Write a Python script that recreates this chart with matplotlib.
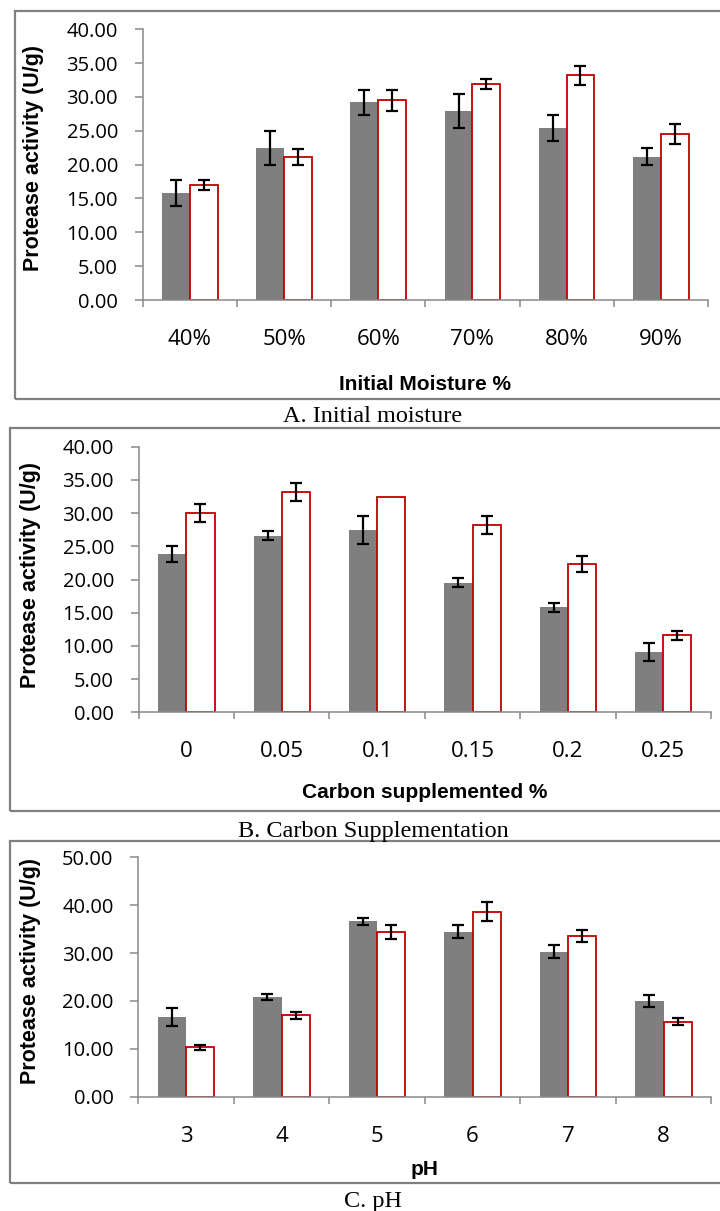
import numpy as np
import matplotlib
matplotlib.use("Agg")
import matplotlib.pyplot as plt
from matplotlib.patches import Rectangle
from matplotlib.ticker import FixedLocator, FormatStrFormatter

# ---------------- data ----------------
A_categories = ['40%', '50%', '60%', '70%', '80%', '90%']
A_gray = [15.8, 22.4, 29.2, 27.9, 25.4, 21.2]
A_gray_err = [1.9, 2.5, 1.9, 2.5, 1.9, 1.2]
A_red = [17.0, 21.1, 29.5, 31.9, 33.2, 24.5]
A_red_err = [0.7, 1.2, 1.5, 0.7, 1.4, 1.5]

B_categories = ['0', '0.05', '0.1', '0.15', '0.2', '0.25']
B_gray = [23.8, 26.6, 27.5, 19.5, 15.8, 9.1]
B_gray_err = [1.2, 0.7, 2.1, 0.7, 0.7, 1.4]
B_red = [30.0, 33.2, 32.4, 28.2, 22.4, 11.6]
B_red_err = [1.3, 1.4, None, 1.4, 1.2, 0.7]

C_categories = ['3', '4', '5', '6', '7', '8']
C_gray = [16.7, 20.8, 36.6, 34.5, 30.3, 20.0]
C_gray_err = [1.9, 0.7, 0.7, 1.4, 1.4, 1.3]
C_red = [10.3, 17.0, 34.4, 38.6, 33.6, 15.7]
C_red_err = [0.6, 0.7, 1.4, 2.0, 1.3, 0.7]

A_xlabel = 'Initial Moisture %'
B_xlabel = 'Carbon supplemented %'
C_xlabel = 'pH'
ylabel_text = 'Protease activity (U/g)'
A_caption = 'A. Initial moisture'
B_caption = 'B. Carbon Supplementation'
C_caption = 'C. pH'

# ---------------- layout (pixels) ----------------
W, H = 720, 1211
GRAY = '#7F7F7F'
RED = '#C00000'
AXIS_GRAY = '#898989'

def fx(x):
    return x / W

def fy(y):
    return 1 - y / H

fig = plt.figure(figsize=(W / 100, H / 100), dpi=100)

TICK_FONT = ['Open Sans', 'DejaVu Sans']
XLABEL_FONT = ['Liberation Sans', 'DejaVu Sans']
YLABEL_FONT = ['Liberation Sans', 'DejaVu Sans']
CAPTION_FONT = ['Liberation Serif', 'DejaVu Serif']

panels = [
    dict(cats=A_categories, gray=A_gray, gerr=A_gray_err, red=A_red, rerr=A_red_err,
         xlabel=A_xlabel, caption=A_caption, ymax=40, ystep=5,
         ax_left=142.7, ax_right=707.9, ax_top=29.3, ax_bottom=300.0,
         box=(15, 10.7, 399.0), ylab=(34, 158), xlab=(425, 390), cap=(373, 422)),
    dict(cats=B_categories, gray=B_gray, gerr=B_gray_err, red=B_red, rerr=B_red_err,
         xlabel=B_xlabel, caption=B_caption, ymax=40, ystep=5,
         ax_left=138.7, ax_right=711.0, ax_top=446.7, ax_bottom=712.3,
         box=(10, 428.0, 810.7), ylab=(31, 575), xlab=(425, 798), cap=(373, 836.7)),
    dict(cats=C_categories, gray=C_gray, gerr=C_gray_err, red=C_red, rerr=C_red_err,
         xlabel=C_xlabel, caption=C_caption, ymax=50, ystep=10,
         ax_left=138.3, ax_right=711.3, ax_top=857.3, ax_bottom=1096.7,
         box=(10, 840.5, 1183.0), ylab=(31, 971), xlab=(425, 1175), cap=(373, 1207)),
]

bw = 0.295
for p in panels:
    # border box
    bl, bt, bb = p['box']
    fig.patches.append(Rectangle((fx(bl), fy(bb)), fx(W + 20 - bl), (bb - bt) / H,
                                 transform=fig.transFigure, fill=False,
                                 edgecolor='#808080', linewidth=1.6, zorder=0))

    ax = fig.add_axes([fx(p['ax_left']), fy(p['ax_bottom']),
                       (p['ax_right'] - p['ax_left']) / W,
                       (p['ax_bottom'] - p['ax_top']) / H])
    x = np.arange(len(p['cats']))
    ax.bar(x - bw / 2, p['gray'], width=bw, color=GRAY, edgecolor='none', zorder=2)
    ax.bar(x + bw / 2, p['red'], width=bw, color='white', edgecolor=RED,
           linewidth=1.3, zorder=2)

    # error bars
    ax.errorbar(x - bw / 2, p['gray'], yerr=p['gerr'], fmt='none', ecolor='black',
                elinewidth=1.6, capsize=4, capthick=1.6, zorder=3)
    idx = [i for i, e in enumerate(p['rerr']) if e is not None]
    ax.errorbar(x[idx] + bw / 2, [p['red'][i] for i in idx],
                yerr=[p['rerr'][i] for i in idx], fmt='none', ecolor='black',
                elinewidth=1.6, capsize=4, capthick=1.6, zorder=3)

    ax.set_xlim(-0.5, len(p['cats']) - 0.5)
    ax.set_ylim(0, p['ymax'])
    ax.set_yticks(np.arange(0, p['ymax'] + 0.01, p['ystep']))
    ax.yaxis.set_major_formatter(FormatStrFormatter('%.2f'))
    ax.set_xticks(x)
    ax.set_xticklabels(p['cats'])
    ax.xaxis.set_minor_locator(FixedLocator(np.arange(-0.5, len(p['cats']), 1.0)))

    for s in ['top', 'right']:
        ax.spines[s].set_visible(False)
    for s in ['left', 'bottom']:
        ax.spines[s].set_color(AXIS_GRAY)
        ax.spines[s].set_linewidth(1.1)

    ax.tick_params(axis='x', which='major', length=0, pad=21, labelsize=16)
    ax.tick_params(axis='x', which='minor', length=5.2, width=1.1, color=AXIS_GRAY,
                   direction='out')
    ax.tick_params(axis='y', which='major', length=5.8, width=1.1, color=AXIS_GRAY,
                   direction='out', pad=12, labelsize=14.5)
    for lab in ax.get_xticklabels() + ax.get_yticklabels():
        lab.set_family(TICK_FONT)
        lab.set_color('black')

    # axis titles and captions
    fig.text(fx(p['ylab'][0]), fy(p['ylab'][1]), ylabel_text, rotation=90,
             ha='center', va='center', fontsize=15.5, fontweight='bold',
             family=YLABEL_FONT)
    fig.text(fx(p['xlab'][0]), fy(p['xlab'][1]), p['xlabel'], ha='center',
             va='baseline', fontsize=15, fontweight='bold', family=XLABEL_FONT)
    fig.text(fx(p['cap'][0]), fy(p['cap'][1]), p['caption'], ha='center',
             va='baseline', fontsize=17.5, family=CAPTION_FONT)

fig.savefig('out.png', dpi=100)
